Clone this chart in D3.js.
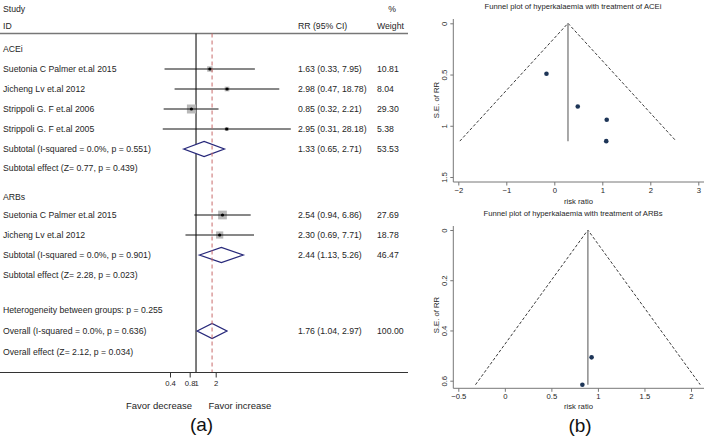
<!DOCTYPE html>
<html><head><meta charset="utf-8">
<script src="https://cdn.jsdelivr.net/npm/d3@7"></script>
<style>
html,body{margin:0;padding:0;background:#fff;}
text{font-family:"Liberation Sans",Arial,sans-serif;}
</style></head>
<body>
<svg id="c" width="708" height="436"></svg>
<script>
// ---------- Forest plot data ----------
const studyNames = ["Suetonia C Palmer et.al 2015","Jicheng Lv et.al 2012","Strippoli G. F et.al 2006","Strippoli G. F et.al 2005","Suetonia C Palmer et.al 2015","Jicheng Lv et.al 2012"];
const studyGroups = ["ACEi","ACEi","ACEi","ACEi","ARBs","ARBs"];
const studyRR = [1.63, 2.98, 0.85, 2.95, 2.54, 2.30];
const studyLo = [0.33, 0.47, 0.32, 0.31, 0.94, 0.69];
const studyHi = [7.95, 18.78, 2.21, 28.18, 6.86, 7.71];
const studyWeight = [10.81, 8.04, 29.30, 5.38, 27.69, 18.78];
const studyCI = ["1.63 (0.33, 7.95)","2.98 (0.47, 18.78)","0.85 (0.32, 2.21)","2.95 (0.31, 28.18)","2.54 (0.94, 6.86)","2.30 (0.69, 7.71)"];
const studyWeightText = ["10.81","8.04","29.30","5.38","27.69","18.78"];

const summaryLabels = ["Subtotal  (I-squared = 0.0%, p = 0.551)","Subtotal  (I-squared = 0.0%, p = 0.901)","Overall  (I-squared = 0.0%, p = 0.636)"];
const summaryRR = [1.33, 2.44, 1.76];
const summaryLo = [0.65, 1.13, 1.04];
const summaryHi = [2.71, 5.26, 2.97];
const summaryCI = ["1.33 (0.65, 2.71)","2.44 (1.13, 5.26)","1.76 (1.04, 2.97)"];
const summaryWeightText = ["53.53","46.47","100.00"];
const effectLabels = ["Subtotal effect (Z= 0.77, p = 0.439)","Subtotal effect (Z= 2.28, p = 0.023)","Overall effect (Z= 2.12, p = 0.034)"];
const heterogeneityLabel = "Heterogeneity between groups: p = 0.255";
const forestTicks = [0.4, 0.8, 1, 2];
const forestTickLabels = ["0.4","0.8","1","2"];

// ---------- Funnel data (log RR, SE of log RR) ----------
const aceLogRR = [0.489, 1.092, -0.163, 1.082];
const aceSE = [0.812, 0.941, 0.493, 1.150];
const acePooled = 0.285;
const aceTicksX = [-2,-1,0,1,2,3];
const aceTicksY = [0,0.5,1,1.5];
const arbLogRR = [0.932, 0.833];
const arbSE = [0.507, 0.616];
const arbPooled = 0.892;
const arbTicksX = [-0.5,0,0.5,1,1.5,2];
const arbTicksY = [0,0.2,0.4,0.6];

const svg = d3.select("#c");
const TXT = "#262626";

// ================= Forest plot =================
const fx = d3.scaleLog().domain([0.4, 2]).range([170, 215.7]);
const fs = 8.7;
const g = svg.append("g");

// row layout (slot -> y)
const rowY = d3.scaleLinear().domain([0, 1]).range([49, 69]);
const rows = [];
rows.push({type:"group", label:"ACEi", slot:0});
[0,1,2,3].forEach((i,k)=>rows.push({type:"study", i, slot:k+1}));
rows.push({type:"summary", j:0, slot:5});
rows.push({type:"effect", j:0, slot:5.97});
rows.push({type:"group", label:"ARBs", slot:7.4});
[4,5].forEach((i,k)=>rows.push({type:"study", i, slot:8.3+k}));
rows.push({type:"summary", j:1, slot:10.3});
rows.push({type:"effect", j:1, slot:11.3});
rows.push({type:"het", slot:13.05});
rows.push({type:"summary", j:2, slot:14.1});
rows.push({type:"effect", j:2, slot:15.15});

// header
g.append("text").attr("x",3).attr("y",12).attr("font-size",fs).attr("fill",TXT).text("Study");
g.append("text").attr("x",3).attr("y",29).attr("font-size",fs).attr("fill",TXT).text("ID");
g.append("text").attr("x",298).attr("y",29).attr("font-size",fs).attr("fill",TXT).text("RR (95% CI)");
g.append("text").attr("x",377).attr("y",29).attr("font-size",fs).attr("fill",TXT).text("Weight");
g.append("text").attr("x",392).attr("y",12).attr("font-size",fs).attr("fill",TXT).attr("text-anchor","middle").text("%");
g.append("line").attr("x1",0).attr("x2",408).attr("y1",33.5).attr("y2",33.5).attr("stroke","#777").attr("stroke-width",1.3);

const axisY = 372.5;
// reference line at RR = 1
g.append("line").attr("x1",fx(1)).attr("x2",fx(1)).attr("y1",33.5).attr("y2",axisY).attr("stroke","#111").attr("stroke-width",1.1);

rows.forEach(r=>{
  const y = rowY(r.slot);
  const ty = y + 3;
  if (r.type==="group") {
    g.append("text").attr("x",3).attr("y",ty).attr("font-size",fs).attr("fill",TXT).text(r.label);
  } else if (r.type==="study") {
    const i = r.i;
    g.append("text").attr("x",3).attr("y",ty).attr("font-size",fs).attr("fill",TXT).text(studyNames[i]);
    const s = 1.66*Math.sqrt(studyWeight[i]);
    g.append("rect").attr("x",fx(studyRR[i])-s/2).attr("y",y-s/2).attr("width",s).attr("height",s).attr("fill","#b9b9b9");
    g.append("line").attr("x1",fx(studyLo[i])).attr("x2",fx(studyHi[i])).attr("y1",y).attr("y2",y).attr("stroke","#111").attr("stroke-width",1);
    g.append("circle").attr("cx",fx(studyRR[i])).attr("cy",y).attr("r",1.6).attr("fill","#000");
    g.append("text").attr("x",298).attr("y",ty).attr("font-size",fs).attr("fill",TXT).text(studyCI[i]);
    g.append("text").attr("x",377).attr("y",ty).attr("font-size",fs).attr("fill",TXT).text(studyWeightText[i]);
  } else if (r.type==="summary") {
    const j = r.j, h = 7.5;
    g.append("text").attr("x",3).attr("y",ty).attr("font-size",fs).attr("fill",TXT).text(summaryLabels[j]);
    const pts = [[fx(summaryLo[j]),y],[fx(summaryRR[j]),y-h],[fx(summaryHi[j]),y],[fx(summaryRR[j]),y+h]];
    g.append("path").attr("d", d3.line()(pts)+"Z").attr("fill","#fff").attr("stroke","#27287a").attr("stroke-width",1.3);
    g.append("text").attr("x",298).attr("y",ty).attr("font-size",fs).attr("fill",TXT).text(summaryCI[j]);
    g.append("text").attr("x",377).attr("y",ty).attr("font-size",fs).attr("fill",TXT).text(summaryWeightText[j]);
  } else if (r.type==="effect") {
    g.append("text").attr("x",3).attr("y",ty).attr("font-size",fs).attr("fill",TXT).text(effectLabels[r.j]);
  } else if (r.type==="het") {
    g.append("text").attr("x",3).attr("y",ty).attr("font-size",fs).attr("fill",TXT).text(heterogeneityLabel);
  }
});
// overall-effect dashed line, drawn over the diamonds as in the reference
g.append("line").attr("x1",fx(summaryRR[2])).attr("x2",fx(summaryRR[2])).attr("y1",33.5).attr("y2",axisY)
  .attr("stroke","#c86a6a").attr("stroke-width",1).attr("stroke-dasharray","4,3");

// forest axis
g.append("line").attr("x1",0).attr("x2",408).attr("y1",axisY).attr("y2",axisY).attr("stroke","#333").attr("stroke-width",1.1);
const fAxis = g.append("g").attr("transform",`translate(0,${axisY})`)
  .call(d3.axisBottom(fx).tickValues(forestTicks).tickFormat((d,i)=>forestTickLabels[i]).tickSize(5).tickPadding(3));
fAxis.select(".domain").remove();
fAxis.selectAll(".tick line").attr("stroke","#333");
fAxis.selectAll(".tick text").attr("font-size",7.7).attr("fill",TXT).attr("font-family","Liberation Sans, Arial, sans-serif");
fAxis.selectAll(".tick").filter(d=>d===1).select("line").remove();

g.append("text").attr("x",192).attr("y",408.5).attr("font-size",9.5).attr("text-anchor","end").attr("fill",TXT).text("Favor decrease");
g.append("text").attr("x",208.5).attr("y",408.5).attr("font-size",9.5).attr("fill",TXT).text("Favor increase");
g.append("text").attr("x",201.5).attr("y",431).attr("font-size",19).attr("text-anchor","middle").attr("fill","#111").text("(a)");

// ================= Funnel plots =================
function funnel(cfg){
  const fg = svg.append("g");
  const x = d3.scaleLinear().domain(cfg.xd).range(cfg.xr);
  const y = d3.scaleLinear().domain(cfg.yd).range(cfg.yr);
  const ax0 = 453.3, ax1 = 704;
  fg.append("text").attr("x",573).attr("y",cfg.titleY).attr("font-size",7.7).attr("text-anchor","middle").attr("fill",TXT).text(cfg.title);
  // axes lines
  fg.append("line").attr("x1",ax0).attr("x2",ax0).attr("y1",cfg.yTop).attr("y2",cfg.xAxisY).attr("stroke","#777").attr("stroke-width",1);
  fg.append("line").attr("x1",ax0).attr("x2",ax1).attr("y1",cfg.xAxisY).attr("y2",cfg.xAxisY).attr("stroke","#777").attr("stroke-width",1);
  const xa = fg.append("g").attr("transform",`translate(0,${cfg.xAxisY})`)
    .call(d3.axisBottom(x).tickValues(cfg.xt).tickFormat(d3.format("")).tickSize(3.5).tickPadding(2));
  xa.select(".domain").remove();
  xa.selectAll(".tick line").attr("stroke","#777");
  xa.selectAll(".tick text").attr("font-size",7.7).attr("fill",TXT).attr("font-family","Liberation Sans, Arial, sans-serif");
  const ya = fg.append("g").attr("transform",`translate(${ax0},0)`)
    .call(d3.axisLeft(y).tickValues(cfg.yt).tickFormat(d3.format("")).tickSize(3).tickPadding(2));
  ya.select(".domain").remove();
  ya.selectAll(".tick line").attr("stroke","#777");
  ya.selectAll(".tick text").attr("font-size",7.7).attr("fill",TXT).attr("font-family","Liberation Sans, Arial, sans-serif")
    .attr("text-anchor","middle").attr("dy","0").attr("x",0).attr("y",0)
    .attr("transform","translate(-6,0) rotate(-90)");
  fg.append("text").attr("transform",`translate(439,${cfg.seY}) rotate(-90)`).attr("font-size",7.7).attr("text-anchor","middle").attr("fill",TXT).text("S.E. of RR");
  fg.append("text").attr("x",578.5).attr("y",cfg.rrY).attr("font-size",7.7).attr("text-anchor","middle").attr("fill",TXT).text("risk ratio");
  // funnel lines (pseudo 95% limits)
  const seMax = d3.max(cfg.se);
  fg.append("path").attr("d", d3.line()([[x(cfg.pooled-1.96*seMax),y(seMax)],[x(cfg.pooled),y(0)],[x(cfg.pooled+1.96*seMax),y(seMax)]]))
    .attr("fill","none").attr("stroke","#3a3a3a").attr("stroke-width",1).attr("stroke-dasharray","3,2");
  fg.append("line").attr("x1",x(cfg.pooled)).attr("x2",x(cfg.pooled)).attr("y1",y(0)).attr("y2",y(seMax))
    .attr("stroke","#8c8c8c").attr("stroke-width",1.5);
  fg.selectAll("circle.p").data(cfg.lr).enter().append("circle")
    .attr("cx",d=>x(d)).attr("cy",(d,i)=>y(cfg.se[i])).attr("r",2.3).attr("fill","#1d3557");
}
funnel({title:"Funnel plot of hyperkalaemia with treatment of ACEi", titleY:8.5,
  xd:[-2,3], xr:[458.3,698.3], yd:[0,1.5], yr:[23.3,177], xAxisY:182, yTop:19,
  xt:aceTicksX, yt:aceTicksY, lr:aceLogRR, se:aceSE, pooled:acePooled, seY:100, rrY:203.5});
funnel({title:"Funnel plot of hyperkalaemia with treatment of ARBs", titleY:216,
  xd:[-0.5,2], xr:[458.3,691], yd:[0,0.6], yr:[230,380.7], xAxisY:388.3, yTop:226,
  xt:arbTicksX, yt:arbTicksY, lr:arbLogRR, se:arbSE, pooled:arbPooled, seY:315, rrY:409});
svg.append("text").attr("x",580).attr("y",432).attr("font-size",19).attr("text-anchor","middle").attr("fill","#111").text("(b)");
</script>
</body></html>
